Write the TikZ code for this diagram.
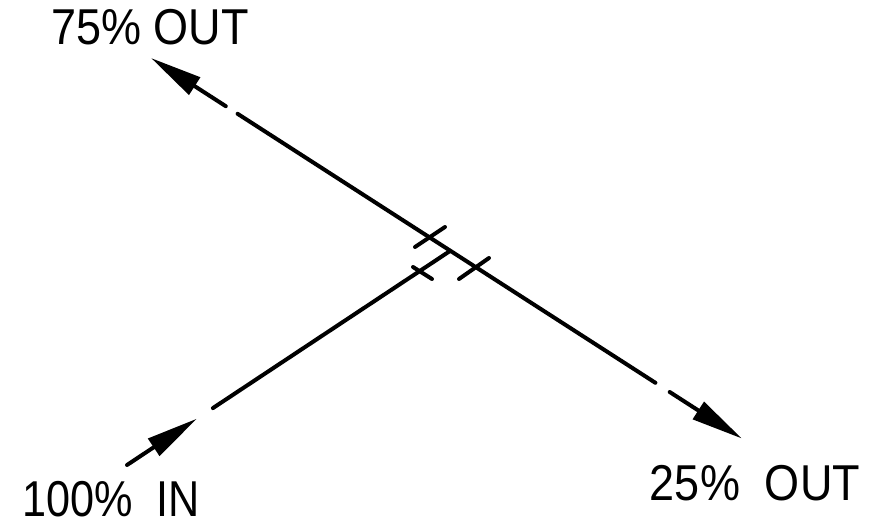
\documentclass[tikz,border=0pt]{standalone}
\usepackage{fontspec}
\setmainfont{Liberation Sans}
\usetikzlibrary{arrows.meta}

\begin{document}
\begin{tikzpicture}[x=1pt, y=-1pt, line width=4pt, line cap=round,
    every node/.style={font=\fontsize{45}{54}\selectfont, inner sep=0pt, anchor=base},
    flow/.style={-{Triangle[length=52pt, width=20pt]}}]
  \useasboundingbox (0,0) rectangle (887,527);

  % Points along the through line (75% / 25%).
  \coordinate (outA) at (151,58);
  \coordinate (a1) at (225.8,106.2);
  \coordinate (a2) at (237.6,113.8);
  \coordinate (b2) at (655.4,382.8);
  \coordinate (b1) at (669.7,392.0);
  \coordinate (outB) at (742,438.6);

  % Points along the incoming branch.
  \coordinate (c0) at (127,465);
  \coordinate (inT) at (197,418.6);
  \coordinate (c1) at (212.9,408.1);
  \coordinate (junc) at (450,251);

  % Through line, broken near each end.
  \draw[flow] (a1) -- (outA);
  \draw (a2) -- (b2);
  \draw[flow] (b1) -- (outB);

  % Incoming branch.
  \draw[flow] (c0) -- (inT);
  \draw (c1) -- (junc);

  % Break marks around the tee.
  \coordinate (m1a) at (415,247); \coordinate (m1b) at (445,227);
  \coordinate (m2a) at (459,279); \coordinate (m2b) at (489,258);
  \coordinate (m3a) at (413,267); \coordinate (m3b) at (432,279);
  \draw (m1a) -- (m1b);
  \draw (m2a) -- (m2b);
  \draw (m3a) -- (m3b);

  % Labels.
  \node (lblA) at (150,45) {\scalebox{1}[1.12]{75\% OUT}};
  \node (lblIn) at (111,516) {\scalebox{0.96}[1.12]{100\%~~IN}};
  \node (lblB) at (755,500) {\scalebox{1}[1.12]{25\%~~OUT}};
\end{tikzpicture}
\end{document}
